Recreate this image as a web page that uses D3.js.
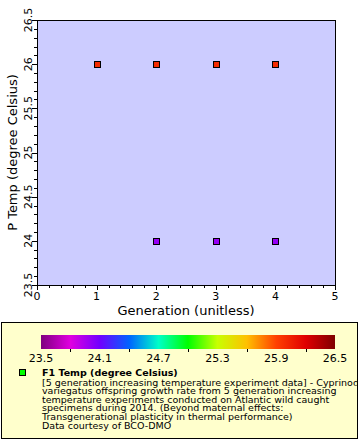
<!DOCTYPE html>
<html><head><meta charset="utf-8">
<script src="https://cdn.jsdelivr.net/npm/d3@7"></script>
<style>body{margin:0;background:#fff}svg{display:block}text{font-family:"DejaVu Sans",sans-serif}</style>
</head><body>
<script>
const generation = [1, 2, 3, 4, 2, 3, 4];
const pTemp = [26, 26, 26, 26, 24, 24, 24];
const f1Temp = [26, 26, 26, 26, 24, 24, 24];
const xTicks = [0, 1, 2, 3, 4, 5];
const yTicks = [23.5, 24, 24.5, 25, 25.5, 26, 26.5];
const cbLabels = [23.5, 24.1, 24.7, 25.3, 25.9, 26.5];
const cbMinor = [23.8, 24.4, 25.0, 25.6, 26.2];
const paletteStops = [23.5, 23.8, 24.1, 24.4, 24.7, 25.0, 25.3, 25.6, 25.9, 26.2, 26.5];
const paletteColors = ["#7f007f", "#e000e0", "#7000ff", "#0064ff", "#00ffc8", "#00ff00", "#c8ff00", "#ffc000", "#ff4000", "#e00000", "#7f0000"];
const legendTitle = "F1 Temp (degree Celsius)";
const legendLines = [
  "[5 generation increasing temperature experiment data] - Cyprinodon",
  "variegatus offspring growth rate from 5 generation increasing",
  "temperature experiments conducted on Atlantic wild caught",
  "specimens during 2014. (Beyond maternal effects:",
  "Transgenerational plasticity in thermal performance)",
  "Data courtesy of BCO-DMO"
];

const W = 360, H = 440;
const svg = d3.select("body").append("svg").attr("width", W).attr("height", H);
const L = 37, R = 335, T = 20, B = 285;
const x = d3.scaleLinear().domain([0, 5]).range([L, R]);
const y = d3.scaleLinear().domain([23.5, 26.5]).range([B, T]);
const color = d3.scaleLinear().domain(paletteStops).range(paletteColors);

svg.append("rect").attr("x", L).attr("y", T).attr("width", R - L).attr("height", B - T)
  .attr("fill", "#ccccff").attr("stroke", "#000").attr("stroke-width", 1).attr("shape-rendering", "crispEdges");

// x axis
const xMinor = d3.range(0, 5.001, 0.2);
svg.append("g").selectAll("line").data(xMinor).join("line")
  .attr("x1", d => Math.round(x(d)) + 0.5).attr("x2", d => Math.round(x(d)) + 0.5)
  .attr("y1", B).attr("y2", (d, i) => B + (i % 5 === 0 ? 5 : 3))
  .attr("stroke", "#000");
svg.append("g").selectAll("text").data(xTicks).join("text")
  .attr("x", d => x(d)).attr("y", 300).attr("text-anchor", "middle")
  .attr("font-size", 11).text(d => d);
svg.append("text").attr("x", (L + R) / 2).attr("y", 315).attr("text-anchor", "middle")
  .attr("font-size", 13).text("Generation (unitless)");

// y axis
const yMinor = d3.range(0, 31).map(i => 23.5 + i * 0.1);
svg.append("g").selectAll("line").data(yMinor).join("line")
  .attr("y1", d => Math.round(y(d)) + 0.5).attr("y2", d => Math.round(y(d)) + 0.5)
  .attr("x1", L).attr("x2", (d, i) => L - (i % 5 === 0 ? 5 : 3))
  .attr("stroke", "#000");
svg.append("g").selectAll("text").data(yTicks).join("text")
  .attr("transform", d => `translate(32,${y(d)}) rotate(-90)`).attr("text-anchor", "middle")
  .attr("font-size", 11).text(d => d);
svg.append("text").attr("transform", `translate(17,${(T + B) / 2}) rotate(-90)`).attr("text-anchor", "middle")
  .attr("font-size", 13).text("P Temp (degree Celsius)");

// points
const pts = generation.map((g, i) => ({ g, t: pTemp[i], c: f1Temp[i] }));
svg.append("g").selectAll("rect").data(pts).join("rect")
  .attr("x", d => Math.round(x(d.g)) - 3 + 0.5).attr("y", d => Math.round(y(d.t)) - 3 + 0.5)
  .attr("width", 6).attr("height", 6)
  .attr("fill", d => color(d.c)).attr("stroke", "#000").attr("stroke-width", 1);

// legend box
svg.append("rect").attr("x", 1.5).attr("y", 322.5).attr("width", 356).attr("height", 116)
  .attr("fill", "#ffffcc").attr("stroke", "#000").attr("stroke-width", 1);

// colorbar
const cbL = 41, cbR = 335, cbT = 335, cbB = 349;
const cx = d3.scaleLinear().domain([23.5, 26.5]).range([cbL, cbR]);
const defs = svg.append("defs");
const grad = defs.append("linearGradient").attr("id", "cb").attr("x1", "0%").attr("x2", "100%");
grad.selectAll("stop").data(paletteStops).join("stop")
  .attr("offset", d => ((d - 23.5) / 3 * 100) + "%").attr("stop-color", d => color(d));
svg.append("rect").attr("x", cbL).attr("y", cbT).attr("width", cbR - cbL).attr("height", cbB - cbT)
  .attr("fill", "url(#cb)");
svg.append("g").selectAll("line").data(cbMinor).join("line")
  .attr("x1", d => Math.round(cx(d)) + 0.5).attr("x2", d => Math.round(cx(d)) + 0.5)
  .attr("y1", cbB).attr("y2", cbB + 3).attr("stroke", "#000");
svg.append("g").selectAll("text").data(cbLabels).join("text")
  .attr("x", d => cx(d)).attr("y", 362).attr("text-anchor", "middle")
  .attr("font-size", 11).text(d => d3.format(".1f")(d));

// legend entry
svg.append("rect").attr("x", 19.5).attr("y", 369.5).attr("width", 6).attr("height", 6)
  .attr("fill", "#00ff00").attr("stroke", "#000");
const clip = defs.append("clipPath").attr("id", "lc");
clip.append("rect").attr("x", 2).attr("y", 323).attr("width", 355).attr("height", 115);
const lg = svg.append("g").attr("clip-path", "url(#lc)");
lg.append("text").attr("x", 42).attr("y", 376).attr("font-size", 9.5).attr("font-weight", "bold").text(legendTitle);
lg.selectAll("text.l").data(legendLines).join("text").attr("class", "l")
  .attr("x", 42).attr("y", (d, i) => 385.5 + i * 8.6).attr("font-size", 9.5).text(d => d);
</script>
</body></html>
